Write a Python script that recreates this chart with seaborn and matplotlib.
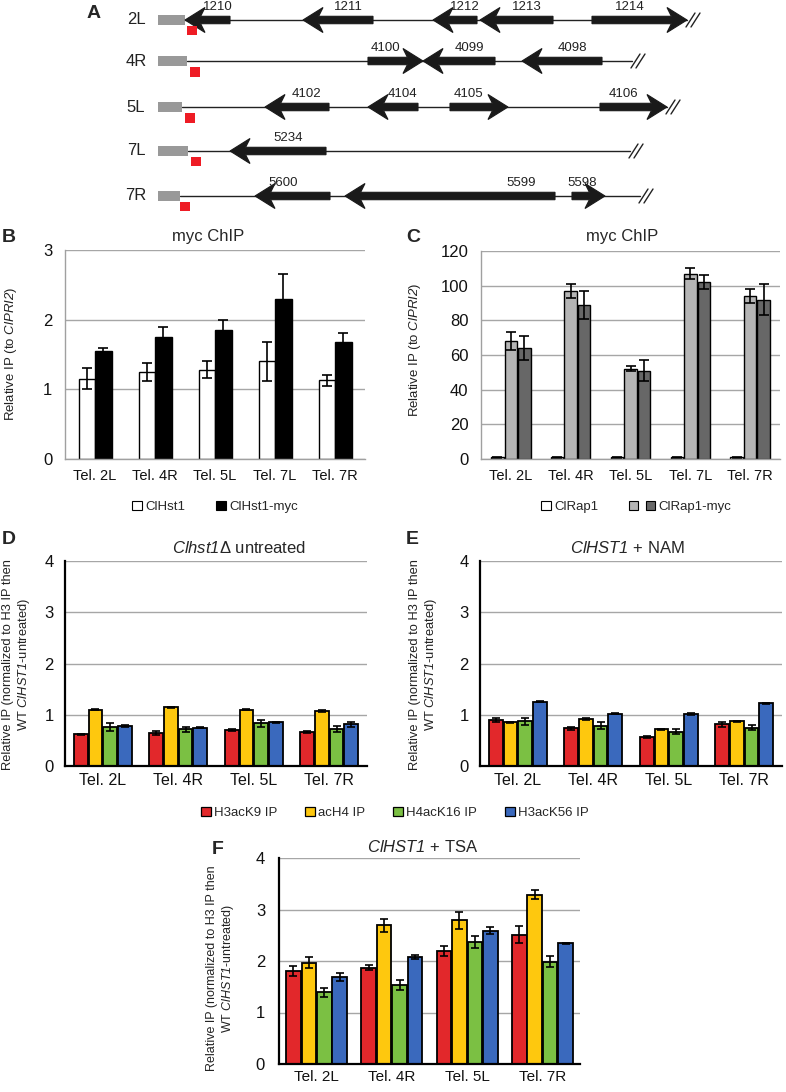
import numpy as np
import pandas as pd
import matplotlib
matplotlib.use("Agg")
import matplotlib.pyplot as plt
import matplotlib.font_manager as fm
from matplotlib.patches import Polygon, Rectangle, Patch
from matplotlib.legend_handler import HandlerTuple
import seaborn as sns

# ---------------- data ----------------
# Panel A: telomere maps (gene name, start, end, strand) in map units
chrom_arms = ["2L", "4R", "5L", "7L", "7R"]
arm_end = [687, 632, 667, 630, 640]
telo_end = [185, 187, 182, 188, 180]
probe_pos = [187, 190, 185, 191, 180]
genes_2L = [("1210", 185, 230, "-"), ("1211", 303, 373, "-"), ("1212", 433, 477, "-"),
            ("1213", 480, 553, "-"), ("1214", 592, 687, "+")]
genes_4R = [("4100", 368, 423, "+"), ("4099", 423, 495, "-"), ("4098", 522, 602, "-")]
genes_5L = [("4102", 265, 329, "-"), ("4104", 368, 418, "-"), ("4105", 450, 508, "+"),
            ("4106", 600, 667, "+")]
genes_7L = [("5234", 230, 326, "-")]
genes_7R = [("5600", 255, 330, "-"), ("5599", 345, 555, "-"), ("5598", 572, 605, "+")]
label_pos_7R = {"5600": 283, "5599": 521, "5598": 582}

# Panel B
tel_bc = ["Tel. 2L", "Tel. 4R", "Tel. 5L", "Tel. 7L", "Tel. 7R"]
hst1 = [1.15, 1.25, 1.28, 1.40, 1.13]
hst1_err = [0.15, 0.13, 0.12, 0.28, 0.08]
hst1_myc = [1.55, 1.75, 1.85, 2.29, 1.68]
hst1_myc_err = [0.04, 0.15, 0.15, 0.36, 0.13]

# Panel C
rap1 = [1.0, 1.0, 1.0, 1.0, 1.0]
rap1_err = [0.3, 0.3, 0.3, 0.3, 0.3]
rap1_myc_a = [68, 97, 52, 107, 94]
rap1_myc_a_err = [5, 4, 1.5, 3, 4]
rap1_myc_b = [64, 89, 51, 102, 92]
rap1_myc_b_err = [7, 8, 6, 4, 9]

# Panels D-F
tel_def = ["Tel. 2L", "Tel. 4R", "Tel. 5L", "Tel. 7R"]
marks = ["H3acK9 IP", "acH4 IP", "H4acK16 IP", "H3acK56 IP"]

d_h3k9 = [0.62, 0.65, 0.70, 0.66]; d_h3k9_err = [0.01, 0.04, 0.02, 0.02]
d_ach4 = [1.10, 1.15, 1.10, 1.07]; d_ach4_err = [0.01, 0.01, 0.01, 0.02]
d_h4k16 = [0.76, 0.72, 0.83, 0.73]; d_h4k16_err = [0.07, 0.05, 0.07, 0.06]
d_h3k56 = [0.78, 0.75, 0.85, 0.81]; d_h3k56_err = [0.02, 0.01, 0.01, 0.04]

e_h3k9 = [0.89, 0.74, 0.57, 0.81]; e_h3k9_err = [0.04, 0.03, 0.02, 0.04]
e_ach4 = [0.85, 0.91, 0.72, 0.87]; e_ach4_err = [0.01, 0.02, 0.01, 0.01]
e_h4k16 = [0.87, 0.79, 0.67, 0.75]; e_h4k16_err = [0.07, 0.06, 0.05, 0.05]
e_h3k56 = [1.25, 1.02, 1.01, 1.22]; e_h3k56_err = [0.01, 0.01, 0.02, 0.01]

f_h3k9 = [1.81, 1.87, 2.19, 2.51]; f_h3k9_err = [0.10, 0.05, 0.10, 0.17]
f_ach4 = [1.97, 2.69, 2.79, 3.29]; f_ach4_err = [0.10, 0.12, 0.16, 0.08]
f_h4k16 = [1.39, 1.53, 2.37, 1.99]; f_h4k16_err = [0.08, 0.10, 0.12, 0.10]
f_h3k56 = [1.69, 2.08, 2.59, 2.34]; f_h3k56_err = [0.08, 0.04, 0.07, 0.01]

mark_colors = ["#e2282b", "#fec80e", "#7bc043", "#3a69bd"]

# ---------------- style ----------------
sns.set_theme(style="white")
plt.rcParams["font.family"] = ["Liberation Sans", "DejaVu Sans"]
plt.rcParams["mathtext.fontset"] = "custom"
# math segments are used only for italic gene names: make digits italic too
plt.rcParams["mathtext.rm"] = "Liberation Sans:italic"
plt.rcParams["mathtext.it"] = "Liberation Sans:italic"
plt.rcParams["mathtext.bf"] = "Liberation Sans:bold"

names = {f.name for f in fm.fontManager.ttflist}
NARROW = "Liberation Sans Narrow" in names

W, H = 786, 1092
fig = plt.figure(figsize=(W / 100, H / 100), dpi=100)


def fx(x):
    return x / W


def fy(y):
    return 1 - y / H


def px_axes(l, t, r, b):
    return fig.add_axes([l / W, 1 - b / H, (r - l) / W, (b - t) / H])


# ---------------- Panel A ----------------
axA = px_axes(0, 0, W, 225)
axA.set_xlim(0, W)
axA.set_ylim(225, 0)
axA.axis("off")
row_y = [20, 61, 107, 151, 196]
all_genes = [genes_2L, genes_4R, genes_5L, genes_7L, genes_7R]
HL, HH, BH = 20, 12.5, 3.7


def gene_patch(start, end, y, strand):
    if strand == "-":
        t, tail, s = start, end, -1
    else:
        t, tail, s = end, start, 1

    def X(off):
        return t - s * off
    pts = [(t, y), (X(HL), y - HH), (X(HL * 0.78), y - BH), (tail, y - BH),
           (tail, y + BH), (X(HL * 0.78), y + BH), (X(HL), y + HH)]
    return Polygon(pts, closed=True, fc="#1a1a1a", ec="#1a1a1a", lw=0.8, zorder=3), \
        ((X(HL) + tail) / 2)


for i, arm in enumerate(chrom_arms):
    y = row_y[i]
    axA.text(136, y, arm, fontsize=12, ha="center", va="center", color="#222222")
    axA.plot([telo_end[i], arm_end[i]], [y, y], color="#222222", lw=1.0, zorder=2)
    axA.add_patch(Rectangle((158, y - 5), telo_end[i] - 158, 10, fc="#999999", ec="none", zorder=2))
    for name, st, en, strand in all_genes[i]:
        p, cx = gene_patch(st, en, y, strand)
        axA.add_patch(p)
        if arm == "7R":
            cx = label_pos_7R[name]
        axA.text(cx, y - 13, name, fontsize=9.5, ha="center", va="center", color="#222222")
    axA.add_patch(Rectangle((probe_pos[i], y + 6), 9.5, 9.5, fc="#ee1c25", ec="none", zorder=4))
    xe = arm_end[i] + 3
    for dx in (0, 5):
        axA.plot([xe + dx - 4, xe + dx + 5], [y + 7, y - 7], color="#222222", lw=1.0, zorder=3)
fig.text(fx(94), fy(13), "A", fontsize=14, fontweight="bold", ha="center", va="center")


# ---------------- helpers ----------------
def grouped_bars(ax, cats, series, values, errors, colors, width, gap, lw, capsize):
    rows = []
    for sname, vals in zip(series, values):
        for c, v in zip(cats, vals):
            rows.append({"telomere": c, "series": sname, "value": v})
    df = pd.DataFrame(rows)
    sns.barplot(data=df, x="telomere", y="value", hue="series", order=cats,
                hue_order=series, palette=dict(zip(series, colors)), width=width,
                gap=gap, edgecolor="black", linewidth=lw, saturation=1,
                errorbar=None, legend=False, ax=ax, zorder=3)
    for cont, err in zip(ax.containers, errors):
        xs = [b.get_x() + b.get_width() / 2 for b in cont]
        ys = [b.get_height() for b in cont]
        ax.errorbar(xs, ys, yerr=err, fmt="none", ecolor="black", elinewidth=1.2,
                    capsize=capsize, capthick=1.2, zorder=5)


def style_axes(ax, n, ymax, yticks, spine_color, spine_lw, ypad, xpad,
               xfamily, xsize, minor):
    ax.set_xlim(-0.5, n - 0.5)
    ax.set_ylim(0, ymax)
    ax.set_yticks(yticks)
    ax.set_xlabel("")
    ax.set_ylabel("")
    for s in ["top", "right"]:
        ax.spines[s].set_visible(False)
    for s in ["left", "bottom"]:
        ax.spines[s].set_color(spine_color)
        ax.spines[s].set_linewidth(spine_lw)
        ax.spines[s].set_zorder(6)
    ax.yaxis.grid(True, color="#a6a6a6", lw=1.0)
    ax.xaxis.grid(False)
    ax.set_axisbelow(True)
    ax.tick_params(axis="y", length=0, pad=ypad, labelsize=12, labelcolor="#111111")
    ax.tick_params(axis="x", which="major", length=0, pad=xpad, labelcolor="#111111")
    for lbl in ax.get_xticklabels():
        lbl.set_fontsize(xsize)
        lbl.set_family(xfamily)
    if minor:
        ax.set_xticks(np.arange(-0.5, n, 1.0), minor=True)
        ax.tick_params(axis="x", which="minor", length=4, width=1, color=spine_color,
                       direction="out")


bc_family = "Liberation Sans Narrow" if NARROW else "Liberation Sans"
bc_size = 12 if NARROW else 10.5
f_family = "Liberation Sans Narrow" if NARROW else "Liberation Sans"
f_size = 12.5 if NARROW else 11

# ---------------- Panel B ----------------
axB = px_axes(65, 250, 365, 459)
grouped_bars(axB, tel_bc, ["ClHst1", "ClHst1-myc"], [hst1, hst1_myc],
             [hst1_err, hst1_myc_err], ["white", "black"], 0.55, 0, 1.0, 3.5)
style_axes(axB, 5, 3, [0, 1, 2, 3], "#a0a0a0", 1.0, 9, 7, bc_family, bc_size, True)
fig.text(fx(208), fy(237), "myc ChIP", fontsize=12, ha="center", va="center")
fig.text(fx(9), fy(238), "B", fontsize=14, fontweight="bold", ha="center", va="center")
fig.text(fx(11), fy(354), r"Relative IP (to $ClPRI2$)", rotation=90,
         fontsize=9.5, ha="center", va="center", color="#222222")
fig.legend(handles=[Patch(fc="white", ec="black", lw=0.8), Patch(fc="black", ec="black", lw=0.8)],
           labels=["ClHst1", "ClHst1-myc"], loc="center", bbox_to_anchor=(fx(215), fy(507)),
           ncol=2, frameon=False, fontsize=9.5, handlelength=0.75, handleheight=0.75,
           handletextpad=0.25, columnspacing=2.3)

# ---------------- Panel C ----------------
axC = px_axes(481, 251, 780, 459)
grouped_bars(axC, tel_bc, ["ClRap1", "ClRap1-myc a", "ClRap1-myc b"],
             [rap1, rap1_myc_a, rap1_myc_b], [rap1_err, rap1_myc_a_err, rap1_myc_b_err],
             ["white", "#b5b5b5", "#676767"], 0.68, 0.08, 1.0, 3.5)
style_axes(axC, 5, 120, [0, 20, 40, 60, 80, 100, 120], "#a0a0a0", 1.0, 9, 7,
           bc_family, bc_size, True)
fig.text(fx(622), fy(237), "myc ChIP", fontsize=12, ha="center", va="center")
fig.text(fx(413), fy(238), "C", fontsize=14, fontweight="bold", ha="center", va="center")
fig.text(fx(415), fy(350), r"Relative IP (to $ClPRI2$)", rotation=90,
         fontsize=9.5, ha="center", va="center", color="#222222")
fig.legend(handles=[Patch(fc="white", ec="black", lw=0.8)], labels=["ClRap1"], loc="center",
           bbox_to_anchor=(fx(570), fy(507)), frameon=False, fontsize=9.5,
           handlelength=0.75, handleheight=0.75, handletextpad=0.25)
fig.legend(handles=[(Patch(fc="#b5b5b5", ec="black", lw=0.8), Patch(fc="#676767", ec="black", lw=0.8))],
           labels=["ClRap1-myc"], loc="center", bbox_to_anchor=(fx(680), fy(507)),
           frameon=False, fontsize=9.5, handlelength=2.0, handleheight=0.75,
           handletextpad=0.25, handler_map={tuple: HandlerTuple(ndivide=None, pad=0.55)})

# ---------------- Panels D, E ----------------
ylab_def = "Relative IP (normalized to H3 IP then\nWT $ClHST1$-untreated)"

axD = px_axes(65, 561, 367, 766)
grouped_bars(axD, tel_def, marks, [d_h3k9, d_ach4, d_h4k16, d_h3k56],
             [d_h3k9_err, d_ach4_err, d_h4k16_err, d_h3k56_err], mark_colors,
             0.78, 0.07, 1.3, 3)
style_axes(axD, 4, 4, [0, 1, 2, 3, 4], "black", 1.6, 8, 5, "Liberation Sans", 11.5, False)
fig.text(fx(239), fy(548), r"$Clhst1$Δ untreated", fontsize=12, ha="center", va="center")
fig.text(fx(9), fy(539), "D", fontsize=14, fontweight="bold", ha="center", va="center")
fig.text(fx(17), fy(665), ylab_def, rotation=90, fontsize=9.3, ha="center", va="center",
         multialignment="center", color="#222222")

axE = px_axes(480, 561, 782, 766)
grouped_bars(axE, tel_def, marks, [e_h3k9, e_ach4, e_h4k16, e_h3k56],
             [e_h3k9_err, e_ach4_err, e_h4k16_err, e_h3k56_err], mark_colors,
             0.78, 0.07, 1.3, 3)
style_axes(axE, 4, 4, [0, 1, 2, 3, 4], "black", 1.6, 8, 5, "Liberation Sans", 11.5, False)
fig.text(fx(627), fy(548), r"$ClHST1$ + NAM", fontsize=12, ha="center", va="center")
fig.text(fx(412), fy(539), "E", fontsize=14, fontweight="bold", ha="center", va="center")
fig.text(fx(424), fy(665), ylab_def, rotation=90, fontsize=9.3, ha="center", va="center",
         multialignment="center", color="#222222")

fig.legend(handles=[Patch(fc=c, ec="black", lw=0.9) for c in mark_colors], labels=marks,
           loc="center", bbox_to_anchor=(fx(395), fy(813)), ncol=4, frameon=False,
           fontsize=9.5, handlelength=0.75, handleheight=0.75, handletextpad=0.25,
           columnspacing=2.1)

# ---------------- Panel F ----------------
axF = px_axes(279, 858, 580, 1064)
grouped_bars(axF, tel_def, marks, [f_h3k9, f_ach4, f_h4k16, f_h3k56],
             [f_h3k9_err, f_ach4_err, f_h4k16_err, f_h3k56_err], mark_colors,
             0.82, 0.05, 1.3, 3)
style_axes(axF, 4, 4, [0, 1, 2, 3, 4], "black", 1.6, 10, 4, f_family, f_size, False)
fig.text(fx(423), fy(847), r"$ClHST1$ + TSA", fontsize=12, ha="center", va="center")
fig.text(fx(218), fy(849), "F", fontsize=14, fontweight="bold", ha="center", va="center")
fig.text(fx(221), fy(968), ylab_def, rotation=90, fontsize=9.0, ha="center", va="center",
         multialignment="center", color="#222222")

fig.savefig("out.png", dpi=100)
